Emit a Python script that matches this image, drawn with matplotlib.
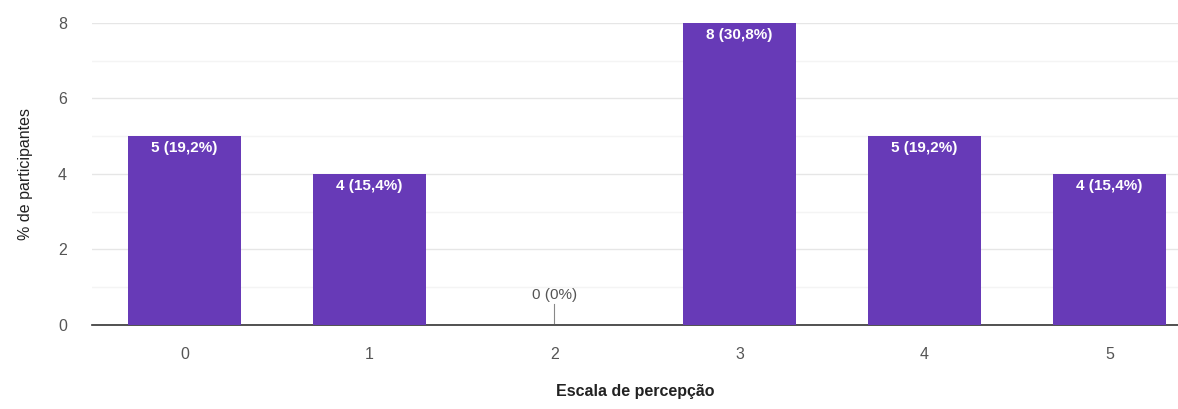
import numpy as np
import matplotlib.pyplot as plt

plt.rcParams['font.family'] = ['Liberation Sans', 'DejaVu Sans']

escala = [0, 1, 2, 3, 4, 5]
contagem = [5, 4, 0, 8, 5, 4]
rotulos = ['5 (19,2%)', '4 (15,4%)', '0 (0%)', '8 (30,8%)', '5 (19,2%)', '4 (15,4%)']

fig = plt.figure(figsize=(11.78, 4.09), dpi=100)
ax = fig.add_axes([0.078, 0.2054, 0.922, 0.7384])

ax.bar(escala, contagem, width=0.615, color='#673ab7', zorder=3)

ax.set_xlim(-0.5, 5.37)
ax.set_ylim(0, 8)
ax.set_yticks([0, 2, 4, 6, 8])
ax.set_yticks([1, 3, 5, 7], minor=True)
ax.grid(axis='y', which='major', color='#e6e6e6', lw=1, zorder=0)
ax.grid(axis='y', which='minor', color='#f4f4f4', lw=1, zorder=0)
ax.set_xticks(escala)
ax.set_xticklabels([str(e) for e in escala])

for s in ['top', 'right', 'left']:
    ax.spines[s].set_visible(False)
ax.spines['bottom'].set_color('#333333')
ax.spines['bottom'].set_linewidth(1.2)
ax.tick_params(axis='both', which='both', length=0, colors='#555555', labelsize=11.5)
ax.tick_params(axis='x', pad=16)
ax.tick_params(axis='y', pad=18)

# valores escritos no topo das barras
for x, c, r in zip(escala, contagem, rotulos):
    if c > 0:
        ax.text(x, c - 0.12, r, ha='center', va='top', color='white',
                fontsize=11, fontweight='bold', zorder=4)
    else:
        ax.plot([x, x], [0.05, 0.55], color='#888888', lw=0.8, zorder=4)
        ax.text(x, 0.6, r, ha='center', va='bottom', color='#555555',
                fontsize=11, zorder=4)

ax.set_ylabel('% de participantes', fontsize=11.5, color='#222222', labelpad=18)
ax.set_xlabel('Escala de percepção', fontsize=11.5, color='#222222',
              fontweight='bold', labelpad=16)

plt.savefig('out.png', dpi=100)
